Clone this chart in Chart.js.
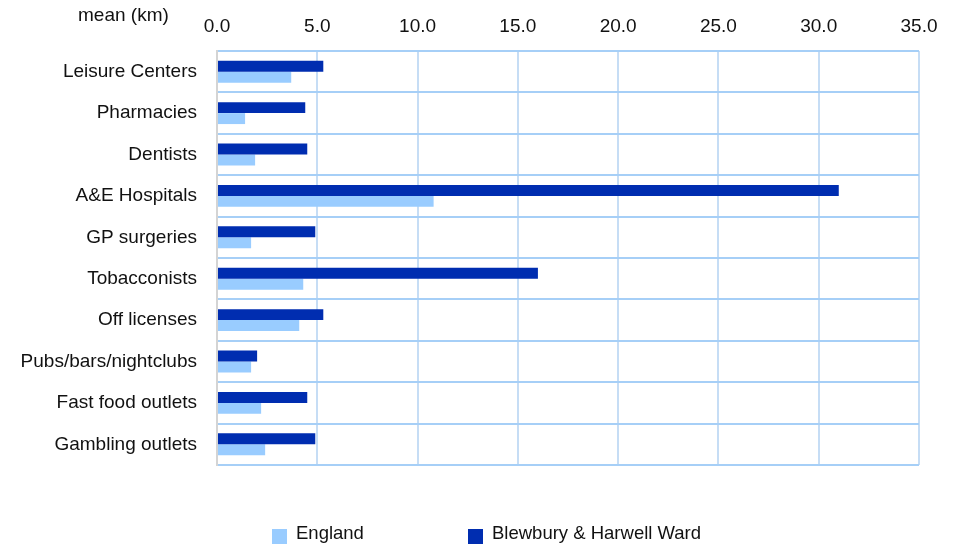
<!DOCTYPE html>
<html>
<head>
<meta charset="utf-8">
<script src="https://cdn.jsdelivr.net/npm/chart.js@4/dist/chart.umd.min.js"></script>
<style>
  html, body { margin: 0; padding: 0; background: #fff; }
  #wrap { width: 957px; height: 544px; position: relative; }
</style>
</head>
<body>
<div id="wrap"><canvas id="chart"></canvas></div>
<script>
// Categorias y valores (km medios)
const categories = ['Leisure Centers', 'Pharmacies', 'Dentists', 'A&E Hospitals', 'GP surgeries',
    'Tobacconists', 'Off licenses', 'Pubs/bars/nightclubs', 'Fast food outlets', 'Gambling outlets'];
const wardValues = [5.3, 4.4, 4.5, 31.0, 4.9, 16.0, 5.3, 2.0, 4.5, 4.9];
const englandValues = [3.7, 1.4, 1.9, 10.8, 1.7, 4.3, 4.1, 1.7, 2.2, 2.4];
const xTicks = [0, 5, 10, 15, 20, 25, 30, 35];
const legendOrder = ['England', 'Blewbury & Harwell Ward'];

const FONT = "'Liberation Sans', Arial, sans-serif";

// texto "mean (km)" y leyenda dibujados a mano
const extras = {
    id: 'extras',
    afterDraw(chart) {
        const ctx = chart.ctx;
        ctx.save();
        ctx.font = '19px ' + FONT;
        ctx.fillStyle = '#111';
        ctx.textBaseline = 'middle';
        ctx.textAlign = 'left';
        ctx.fillText('mean (km)', 78, 16);

        ctx.font = '18.5px ' + FONT;
        const xs = [272, 468];
        legendOrder.forEach((name, i) => {
            const ds = chart.data.datasets.find(d => d.label === name);
            ctx.fillStyle = ds.backgroundColor;
            ctx.fillRect(xs[i], 529, 15, 15);
            ctx.fillStyle = '#111';
            ctx.fillText(name, xs[i] + 24, 534);
        });
        ctx.restore();
    }
};

new Chart(document.getElementById('chart'), {
    type: 'bar',
    data: {
        labels: categories,
        datasets: [
            {
                label: 'Blewbury & Harwell Ward',
                data: wardValues,
                backgroundColor: '#002db0',
                categoryPercentage: 0.53,
                barPercentage: 1.0
            },
            {
                label: 'England',
                data: englandValues,
                backgroundColor: '#99ccff',
                categoryPercentage: 0.53,
                barPercentage: 1.0
            }
        ]
    },
    options: {
        indexAxis: 'y',
        responsive: true,
        maintainAspectRatio: false,
        animation: false,
        layout: { padding: { top: 0, right: 38, bottom: 79, left: 0 } },
        plugins: {
            legend: { display: false },
            tooltip: { enabled: false }
        },
        scales: {
            x: {
                position: 'top',
                min: 0,
                max: 35,
                afterBuildTicks: axis => { axis.ticks = xTicks.map(v => ({ value: v })); },
                afterFit: axis => { axis.height = 51; },
                ticks: {
                    font: { family: FONT, size: 19 },
                    color: '#111',
                    padding: 13,
                    callback: v => Number(v).toFixed(1)
                },
                grid: { color: '#c6ddf5', lineWidth: 2, drawTicks: false },
                border: { display: false }
            },
            y: {
                afterFit: axis => { axis.width = 217; },
                ticks: {
                    font: { family: FONT, size: 19 },
                    color: '#111',
                    padding: 20
                },
                grid: { color: '#a6cff7', lineWidth: 2, drawTicks: false },
                border: { color: '#d4d4d4', width: 2 }
            }
        }
    },
    plugins: [extras]
});
</script>
</body>
</html>
